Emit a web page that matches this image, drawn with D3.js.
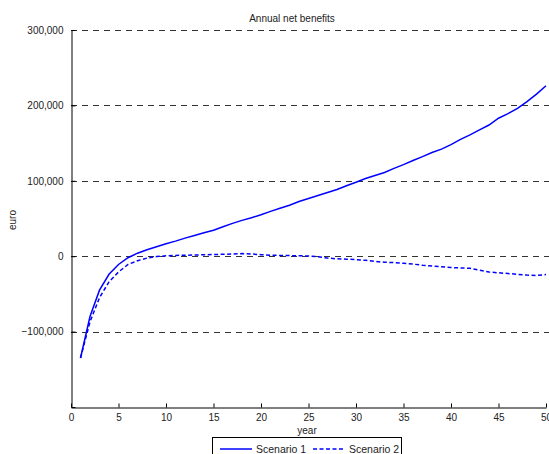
<!DOCTYPE html>
<html>
<head>
<meta charset="utf-8">
<script src="https://cdn.jsdelivr.net/npm/d3@7"></script>
<style>
  body { margin: 0; background: #fff; }
  text { font-family: "Liberation Sans", Arial, sans-serif; fill: #222; }
  .grid line { stroke: #333; stroke-dasharray: 6,5; }
</style>
</head>
<body>
<div id="chart"></div>
<script>
var width = 549;
var height = 454;
var margin = {left: 71, top: 30, right: 3, bottom: 47};

var years = d3.range(1, 51);
var scenario1 = [-135000, -80000, -45000, -24000, -11000, -2000, 4000, 8500, 12500, 16500,
  20000, 24000, 27500, 31000, 34500, 39000, 43500, 47500, 51000, 55000,
  59500, 63500, 67500, 72500, 76500, 80500, 84500, 88500, 93500, 98000,
  103000, 107000, 111000, 116500, 121500, 127000, 132000, 137500, 142000, 148000,
  155000, 161000, 167500, 174000, 183000, 189000, 196000, 205000, 215000, 226000];
var scenario2 = [-135000, -87000, -55000, -34000, -21000, -11000, -6000, -2500, -500, 500,
  1000, 1300, 1500, 2000, 2200, 2500, 3000, 3500, 3000, 2000,
  1300, 1000, 800, 600, 300, -800, -2500, -3500, -4000, -4500,
  -5500, -7000, -8000, -8500, -9500, -10500, -12000, -13000, -14000, -15000,
  -15500, -16000, -18500, -21000, -22000, -23000, -24000, -25000, -25500, -24300];
var xTicks = [0, 5, 10, 15, 20, 25, 30, 35, 40, 45, 50];
var yTicks = [-200000, -100000, 0, 100000, 200000, 300000];
var gridValues = [-100000, 0, 100000, 200000, 300000];
var seriesNames = ["Scenario 1", "Scenario 2"];

var svg = d3.select("#chart")
  .append("svg")
  .attr("width", width)
  .attr("height", height);

var xScale = d3.scaleLinear()
  .domain([0, 50])
  .range([margin.left, width - margin.right]);
var yScale = d3.scaleLinear()
  .domain([-200000, 300000])
  .range([height - margin.bottom, margin.top]);

// dashed grid lines, they run on to the right edge
svg.append("g")
  .attr("class", "grid")
  .selectAll("line")
  .data(gridValues)
  .enter().append("line")
  .attr("x1", margin.left)
  .attr("x2", width)
  .attr("y1", function(d){ return Math.round(yScale(d)) + 0.5; })
  .attr("y2", function(d){ return Math.round(yScale(d)) + 0.5; });

var fmt = d3.format(",");
var yAxis = d3.axisLeft(yScale)
  .tickValues(yTicks)
  .tickFormat(function(d){ return d === -200000 ? "" : fmt(d); })
  .tickSizeInner(-4)
  .tickSizeOuter(0)
  .tickPadding(8);
var xAxis = d3.axisBottom(xScale)
  .tickValues(xTicks)
  .tickSizeInner(-4)
  .tickSizeOuter(0)
  .tickPadding(6);

var gy = svg.append("g")
  .attr("transform", "translate(" + (margin.left + 0.5) + ",0)")
  .call(yAxis);
var gx = svg.append("g")
  .attr("transform", "translate(0," + (Math.round(yScale(-200000)) + 0.5) + ")")
  .call(xAxis);
[gx, gy].forEach(function(g){
  g.selectAll("text").style("font-size", "10px").attr("fill", "#222")
    .style("font-family", "Liberation Sans, Arial, sans-serif");
  g.selectAll("line, path").attr("stroke", "#000");
});

var line = d3.line()
  .x(function(d, i){ return xScale(years[i]); })
  .y(function(d){ return yScale(d); });

svg.append("path")
  .datum(scenario1)
  .attr("fill", "none")
  .attr("stroke", "#0000ff")
  .attr("stroke-width", 1.5)
  .attr("d", line);
svg.append("path")
  .datum(scenario2)
  .attr("fill", "none")
  .attr("stroke", "#0000ff")
  .attr("stroke-width", 1.5)
  .attr("stroke-dasharray", "4,2.5")
  .attr("d", line);

// title and labels
svg.append("text")
  .attr("x", 292).attr("y", 22)
  .attr("text-anchor", "middle")
  .style("font-size", "10px")
  .text("Annual net benefits");
svg.append("text")
  .attr("x", 307).attr("y", 434)
  .attr("text-anchor", "middle")
  .style("font-size", "10px")
  .text("year");
svg.append("text")
  .attr("transform", "translate(16,220) rotate(-90)")
  .attr("text-anchor", "middle")
  .style("font-size", "10px")
  .text("euro");

// legend
var lg = svg.append("g");
lg.append("rect")
  .attr("x", 212.5).attr("y", 437.5)
  .attr("width", 189).attr("height", 24)
  .attr("fill", "#fff").attr("stroke", "#000");
var entries = [
  {name: seriesNames[0], x: 220, dash: null},
  {name: seriesNames[1], x: 313, dash: "4,2.5"}
];
entries.forEach(function(e){
  lg.append("line")
    .attr("x1", e.x).attr("x2", e.x + 32)
    .attr("y1", 449).attr("y2", 449)
    .attr("stroke", "#0000ff").attr("stroke-width", 1.5)
    .attr("stroke-dasharray", e.dash);
  lg.append("text")
    .attr("x", e.x + 36).attr("y", 452.5)
    .style("font-size", "10.5px")
    .text(e.name);
});
</script>
</body>
</html>
